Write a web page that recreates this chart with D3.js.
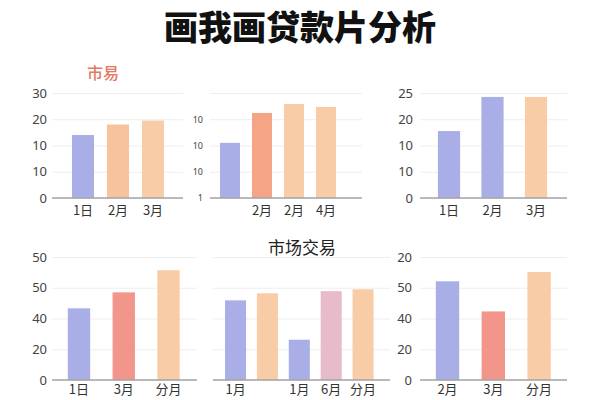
<!DOCTYPE html>
<html>
<head>
<meta charset="utf-8">
<script src="https://cdn.jsdelivr.net/npm/d3@7"></script>
<style>
  body { margin: 0; background: #fff; }
  text { font-family: "Noto Sans CJK SC", "Noto Sans", sans-serif; }
</style>
</head>
<body>
<svg id="chart"></svg>
<script>
const title = "画我画贷款片分析";
const subTitleTop = "市易";
const subTitleBottom = "市场交易";

// shared tick positions (value units), labels differ per panel
const tickVals = [0, 10, 20, 30, 40];

const p1Cats = ["1日", "2月", "3月"];
const p1Vals = [24, 28, 29.5];
const p1Ticks = ["0", "10", "10", "20", "30"];

const p2Cats = ["", "2月", "2月", "4月"];
const p2Vals = [21, 32.4, 35.8, 34.7];
const p2Ticks = ["1", "10", "10", "10", ""];

const p3Cats = ["1日", "2月", "3月"];
const p3Vals = [25.5, 38.5, 38.5];
const p3Ticks = ["0", "10", "10", "20", "25"];

const p4Cats = ["1日", "3月", "分月"];
const p4Vals = [23.3, 28.5, 35.7];
const p4Ticks = ["0", "20", "40", "50", "50"];

const p5Cats = ["1月", "", "1月", "6月", "分月"];
const p5Vals = [25.9, 28.2, 13.1, 28.9, 29.5];
const p5Ticks = ["", "", "", "", ""];

const p6Cats = ["2月", "3月", "分月"];
const p6Vals = [32.1, 22.3, 35.1];
const p6Ticks = ["0", "20", "40", "50", "20"];

// colours
const blue = "#A9AEE6", peach = "#F8CCA6", peach2 = "#F7C39D", salmon = "#F5A486",
      coral = "#F2958A", pink = "#E8BBCB";
const p1Colors = [blue, peach2, peach];
const p2Colors = [blue, salmon, peach, peach];
const p3Colors = [blue, blue, peach];
const p4Colors = [blue, coral, peach];
const p5Colors = [blue, peach, blue, pink, peach];
const p6Colors = [blue, coral, peach];

// layout: baseline extent, bar range, y range, padding
const panels = [
  { cats: p1Cats, vals: p1Vals, ticks: p1Ticks, colors: p1Colors,
    x0: 52, x1: 183, b0: 65.5, b1: 170.5, pad: 0.37, base: 198, top: 93, tp: 5, tfs: 13, lp: 8 },
  { cats: p2Cats, vals: p2Vals, ticks: p2Ticks, colors: p2Colors,
    x0: 210, x1: 362, b0: 214, b1: 342, pad: 0.375, base: 198, top: 93, tp: 7, tfs: 9, lp: 8 },
  { cats: p3Cats, vals: p3Vals, ticks: p3Ticks, colors: p3Colors,
    x0: 420, x1: 567, b0: 427.25, b1: 557.75, pad: 0.49, base: 198, top: 93, tp: 7, tfs: 13, lp: 8 },
  { cats: p4Cats, vals: p4Vals, ticks: p4Ticks, colors: p4Colors,
    x0: 52, x1: 197, b0: 56.6, b1: 190.9, pad: 0.5, base: 380, top: 257, tp: 5, tfs: 13, lp: 5 },
  { cats: p5Cats, vals: p5Vals, ticks: p5Ticks, colors: p5Colors,
    x0: 213, x1: 390, b0: 219.6, b1: 379, pad: 0.34, base: 380, top: 257, tp: 5, tfs: 13, lp: 5 },
  { cats: p6Cats, vals: p6Vals, ticks: p6Ticks, colors: p6Colors,
    x0: 420, x1: 567, b0: 424.6, b1: 562, pad: 0.49, base: 380, top: 257, tp: 8, tfs: 13, lp: 5 }
];

const svg = d3.select("#chart")
    .attr("width", 600)
    .attr("height", 400);

svg.append("text")
    .attr("x", 300)
    .attr("y", 40)
    .attr("text-anchor", "middle")
    .attr("font-size", 34)
    .attr("font-weight", 900)
    .attr("fill", "#111")
    .text(title);

svg.append("text")
    .attr("x", 103)
    .attr("y", 79)
    .attr("text-anchor", "middle")
    .attr("font-size", 16)
    .attr("font-weight", 500)
    .attr("fill", "#E07A62")
    .text(subTitleTop);

svg.append("text")
    .attr("x", 302)
    .attr("y", 254)
    .attr("text-anchor", "middle")
    .attr("font-size", 17)
    .attr("fill", "#222")
    .text(subTitleBottom);

panels.forEach(function (p) {
    const g = svg.append("g");
    const data = p.vals.map((v, i) => ({ i: i, value: v, label: p.cats[i], color: p.colors[i] }));

    const x = d3.scaleBand()
        .domain(data.map(d => d.i))
        .range([p.b0, p.b1])
        .paddingInner(p.pad)
        .paddingOuter(p.pad / 2);

    const y = d3.scaleLinear()
        .domain([0, 40])
        .range([p.base, p.top]);

    // grid + tick labels
    const yAxis = g.append("g")
        .attr("transform", `translate(${p.x0},0)`)
        .call(d3.axisLeft(y)
            .tickValues(tickVals)
            .tickSize(-(p.x1 - p.x0))
            .tickPadding(p.tp)
            .tickFormat((d, i) => p.ticks[i]));
    yAxis.select(".domain").remove();
    yAxis.selectAll(".tick line").attr("stroke", "#eeeeee");
    yAxis.selectAll(".tick text")
        .attr("fill", "#444")
        .attr("font-size", p.tfs)
        .style("font-family", "'Noto Sans', sans-serif");

    g.selectAll("rect")
        .data(data)
        .enter().append("rect")
        .attr("x", d => x(d.i))
        .attr("y", d => y(d.value))
        .attr("width", x.bandwidth())
        .attr("height", d => y(0) - y(d.value))
        .attr("fill", d => d.color);

    g.append("line")
        .attr("x1", p.x0)
        .attr("x2", p.x1)
        .attr("y1", y(0))
        .attr("y2", y(0))
        .attr("stroke", "#a5a5a5")
        .attr("stroke-width", 1.3);

    const xAxis = g.append("g")
        .attr("transform", `translate(0,${p.base})`)
        .call(d3.axisBottom(x)
            .tickSize(0)
            .tickPadding(p.lp)
            .tickFormat(i => p.cats[i]));
    xAxis.select(".domain").remove();
    xAxis.selectAll(".tick text")
        .attr("fill", "#333")
        .attr("font-size", 13);
});
</script>
</body>
</html>
